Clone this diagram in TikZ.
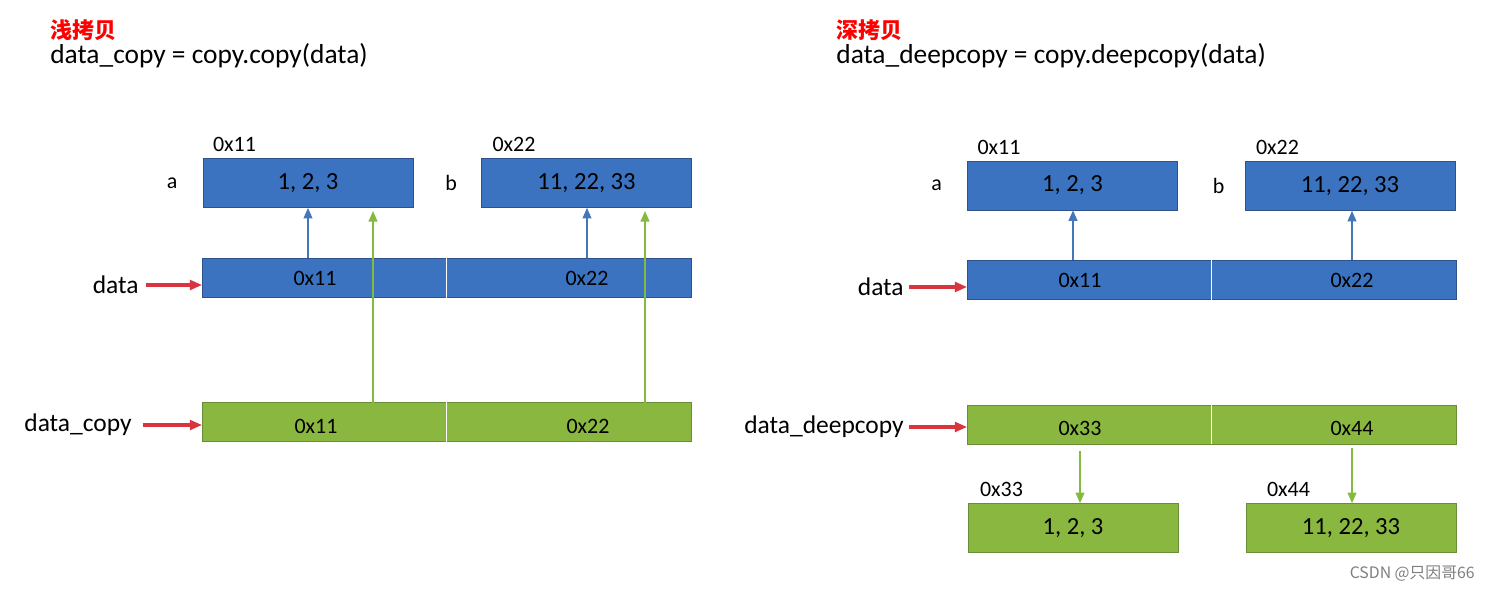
\documentclass[tikz,border=0pt]{standalone}
\usepackage{fontspec}
\setmainfont{Carlito}
\newfontfamily\cjk{Noto Sans CJK SC}
\usetikzlibrary{positioning, arrows.meta, calc}
\definecolor{boxblue}{RGB}{59,115,192}
\definecolor{edgeblue}{RGB}{45,82,140}
\definecolor{boxgreen}{RGB}{137,183,64}
\definecolor{edgegreen}{RGB}{105,140,55}
\definecolor{ptrred}{RGB}{218,52,62}
\definecolor{ptrblue}{RGB}{68,118,186}
\definecolor{ptrgreen}{RGB}{132,186,62}

\begin{document}
\begin{tikzpicture}[x=0.02cm, y=-0.02cm,
  every node/.style={font=\fontsize{12.5}{14}\selectfont, inner sep=0pt},
  title/.style={anchor=west, text=red, font=\cjk\bfseries\fontsize{12.5}{14}\selectfont},
  code/.style={anchor=west, font=\fontsize{15.6}{17}\selectfont},
  objbox/.style={rectangle, minimum width=4.2cm, minimum height=0.98cm,
                 font=\fontsize{14}{16}\selectfont},
  bluebox/.style={objbox, fill=boxblue, draw=edgeblue, thin},
  greenbox/.style={objbox, fill=boxgreen, draw=edgegreen, thin},
  cell/.style={rectangle, minimum width=4.88cm, minimum height=0.77cm},
  bluecell/.style={cell, fill=boxblue},
  greencell/.style={cell, fill=boxgreen},
  varname/.style={font=\fontsize{14.5}{16}\selectfont},
  ptr/.style={-{Triangle[length=7pt, width=5.5pt]}, line width=1.8pt, ptrred},
  bluearr/.style={-{Triangle[length=6pt, width=5pt]}, line width=0.9pt, ptrblue},
  greenarr/.style={-{Triangle[length=6pt, width=5pt]}, line width=0.9pt, ptrgreen}
]
  \fill[white] (0,0) rectangle (1490,592);

  % shallow copy
  \node[title] (t1) at (50,30) {浅拷贝};
  \node[code] (c1) at (50,56) {data\_copy = copy.copy(data)};

  \node[bluebox] (a1) at (308,183) {1, 2, 3};
  \node[bluebox] (b1) at (586.5,183) {11, 22, 33};
  \node[anchor=south west] (la1) at ([shift={(10,-6)}]a1.north west) {0x11};
  \node[anchor=south west] (lb1) at ([shift={(11,-6)}]b1.north west) {0x22};
  \node[left=0.5cm of a1] (na1) {a};
  \node[left=0.48cm of b1] (nb1) {b};

  \node[bluecell] (d1) at (324.5,278) {};
  \node[bluecell, right=0pt of d1] (d2) {};
  \draw[edgeblue, thin] (d1.north west) rectangle (d2.south east);
  \draw[white, thin] (d1.north east) -- (d1.south east);
  \node (p11) at (315,278) {0x11};
  \node (p12) at (587,278) {0x22};

  \node[greencell] (e1) at (324.5,422) {};
  \node[greencell, right=0pt of e1] (e2) {};
  \draw[edgegreen, thin] (e1.north west) rectangle (e2.south east);
  \draw[white, thin] (e1.north east) -- (e1.south east);
  \node (q11) at (316,426) {0x11};
  \node (q12) at (588,426) {0x22};

  \node[varname, anchor=east] (v1) at (139,285) {data};
  \node[varname, anchor=east] (v2) at (132,425) {data\_copy};
  \draw[ptr] ([xshift=4pt]v1.east) -- (v1.east -| d1.west);
  \draw[ptr] ([xshift=6pt]v2.east) -- (v2.east -| e1.west);

  \draw[bluearr] (d1.north -| 308,0) -- (a1.south -| 308,0);
  \draw[bluearr] (d2.north -| 587,0) -- (b1.south -| 587,0);
  \coordinate (g1) at (373,211);
  \coordinate (g2) at (645,211);
  \draw[greenarr] ([yshift=-2pt]e1.north -| g1) -- (g1);
  \draw[greenarr] ([yshift=-2pt]e2.north -| g2) -- (g2);

  % deep copy
  \node[title] (t2) at (836,30) {深拷贝};
  \node[code] (c2) at (836,56) {data\_deepcopy = copy.deepcopy(data)};

  \node[bluebox] (a2) at (1072.5,185.5) {1, 2, 3};
  \node[bluebox] (b2) at (1350,186) {11, 22, 33};
  \node[anchor=south west] (la2) at ([shift={(10,-6)}]a2.north west) {0x11};
  \node[anchor=south west] (lb2) at ([shift={(11,-6)}]b2.north west) {0x22};
  \node[left=0.5cm of a2] (na2) {a};
  \node[left=0.4cm of b2] (nb2) {b};

  \node[bluecell] (d3) at (1089.5,280) {};
  \node[bluecell, right=0pt of d3] (d4) {};
  \draw[edgeblue, thin] (d3.north west) rectangle (d4.south east);
  \draw[white, thin] (d3.north east) -- (d3.south east);
  \node (p21) at (1080,280) {0x11};
  \node (p22) at (1352,280) {0x22};

  \node[greencell] (e3) at (1089.5,424.5) {};
  \node[greencell, right=0pt of e3] (e4) {};
  \draw[edgegreen, thin] (e3.north west) rectangle (e4.south east);
  \draw[white, thin] (e3.north east) -- (e3.south east);
  \node (q21) at (1080,428) {0x33};
  \node (q22) at (1352,428) {0x44};

  \node[varname, anchor=east] (v3) at (904,287) {data};
  \node[varname, anchor=east] (v4) at (904,427) {data\_deepcopy};
  \draw[ptr] ([xshift=3pt]v3.east) -- (v3.east -| d3.west);
  \draw[ptr] ([xshift=3pt]v4.east) -- (v4.east -| e3.west);

  \draw[bluearr] (d3.north -| 1073,0) -- (a2.south -| 1073,0);
  \draw[bluearr] (d4.north -| 1352,0) -- (b2.south -| 1352,0);

  \node[greenbox] (a3) at (1073,528) {1, 2, 3};
  \node[greenbox] (b3) at (1351,528) {11, 22, 33};
  \node[anchor=south west] (la3) at ([shift={(12,-6)}]a3.north west) {0x33};
  \node[anchor=south west] (lb3) at ([shift={(21,-6)}]b3.north west) {0x44};
  \draw[greenarr] ([yshift=-4pt]e3.south -| q21) -- (a3.north -| q21);
  \draw[greenarr] ([yshift=-2pt]e4.south -| q22) -- (b3.north -| q22);

  \node[anchor=east, text=gray, font=\cjk\fontsize{9}{10}\selectfont] (wm) at (1475,574) {CSDN @只因哥66};
\end{tikzpicture}
\end{document}
